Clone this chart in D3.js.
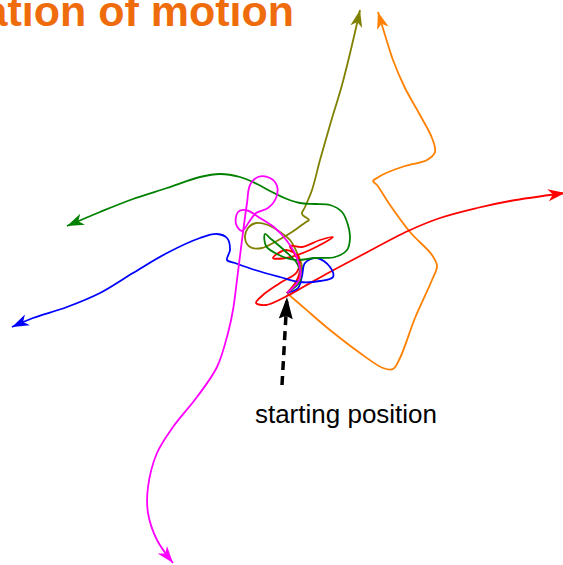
<!DOCTYPE html>
<html>
<head>
<meta charset="utf-8">
<script src="https://cdn.jsdelivr.net/npm/d3@7"></script>
<style>
	html, body { margin: 0; padding: 0; background: #fff; }
	svg { display: block; }
</style>
</head>
<body>
<svg id="chart"></svg>
<script>
;(() => {
	'use strict';

	// track positions, image coordinates (y grows downward)
	const trackNames = ['olive', 'orange', 'red', 'blue', 'green', 'magenta'];
	const trackColors = ['#808000', '#ff8000', '#ff0000', '#0000ff', '#008000', '#ff00ff'];

	const oliveTrack = [[287,293],[296,282],[302,268],[298,255],[290,240],[280,232],[268,225],[256,223],[248,228],[245,238],[250,247],[262,248],[275,242],[292,232],[306,222],[309,220],[302,214],[305,207],[312,190],[320,160],[330,125],[342,85],[352,45],[360,10]];
	const orangeTrack = [[287,293],[295,300],[310,313],[330,330],[360,353],[383,368],[393,369],[400,358],[415,318],[432,280],[437,266],[432,255],[410,232],[390,205],[377,185],[373,181],[377,178],[386,173],[405,166],[427,160],[435,152],[432,138],[420,115],[405,88],[393,60],[385,35],[378,12]];
	const redTrack = [[287,293],[296,282],[300,266],[294,253],[290,246],[302,247],[320,240],[333,237],[310,250],[286,258],[273,258],[286,250],[299,258],[297,272],[280,283],[263,295],[256,303],[266,305],[285,297],[305,286],[330,272],[360,256],[408,231],[440,218],[477,208],[510,201],[565,193]];
	const blueTrack = [[287,293],[298,288],[302,276],[305,263],[317,258],[330,267],[333,277],[320,281],[300,282],[280,277],[255,270],[235,263],[227,260],[230,250],[227,238],[217,234],[200,238],[167,253],[133,273],[100,293],[67,307],[33,318],[12,327]];
	const greenTrack = [[287,293],[300,281],[298,265],[285,251],[271,239],[265,234],[266,246],[279,255],[296,260],[315,258],[335,257],[347,250],[350,238],[348,225],[342,212],[330,205],[315,204],[300,203],[287,199],[272,192],[257,184],[240,177],[220,174],[200,177],[167,188],[133,199],[100,212],[67,226]];
	const magentaTrack = [[287,293],[300,278],[297,258],[287,241],[275,228],[260,218],[246,210],[238,212],[236,224],[242,231],[249,222],[256,213],[268,208],[276,198],[277,186],[270,178],[258,177],[250,185],[247,203],[242,240],[237,280],[233,310],[228,333],[217,367],[197,397],[173,427],[157,453],[148,487],[148,513],[157,540],[173,563]];

	const tracks = [oliveTrack, orangeTrack, redTrack, blueTrack, greenTrack, magentaTrack];

	// starting position annotation
	const startPoint = [287, 297];
	const labelAnchor = [282, 385];
	const labelText = 'starting position';
	const titleText = 'Visualization of motion';

	const width = 563,
		height = 565;

	const x = d3.scaleLinear().domain([0, 563]).range([0, width]),
		y = d3.scaleLinear().domain([0, 565]).range([0, height]);

	const svg = d3.select('#chart')
		.attr('width', width)
		.attr('height', height);

	const defs = svg.append('defs');

	// one arrowhead marker per colour
	const addMarker = function(id, color, len, half, notch) {
		defs.append('marker')
			.attr('id', id)
			.attr('markerUnits', 'userSpaceOnUse')
			.attr('viewBox', (-len - 2) + ' ' + (-half - 2) + ' ' + (len + 4) + ' ' + (2 * half + 4))
			.attr('markerWidth', len + 4)
			.attr('markerHeight', 2 * half + 4)
			.attr('refX', 0)
			.attr('refY', 0)
			.attr('orient', 'auto')
			.append('path')
			.attr('d', 'M0,0L' + (-len) + ',' + (-half) + 'L' + (-len * notch) + ',0L' + (-len) + ',' + half + 'Z')
			.attr('fill', color);
	};

	trackColors.forEach((c, i) => addMarker('arrow-' + trackNames[i], c, 17, 6, 0.72));
	addMarker('arrow-start', '#000', 22, 7, 0.85);

	const line = d3.line()
		.x(d => x(d[0]))
		.y(d => y(d[1]))
		.curve(d3.curveCatmullRom.alpha(0.5));

	svg.selectAll('.track')
		.data(tracks)
		.enter()
		.append('path')
		.attr('class', 'track')
		.attr('d', line)
		.attr('fill', 'none')
		.attr('stroke', (d, i) => trackColors[i])
		.attr('stroke-width', 1.8)
		.attr('stroke-linejoin', 'round')
		.attr('marker-end', (d, i) => 'url(#arrow-' + trackNames[i] + ')');

	// dashed pointer to the start
	svg.append('line')
		.attr('x1', x(labelAnchor[0]))
		.attr('y1', y(labelAnchor[1]))
		.attr('x2', x(startPoint[0]))
		.attr('y2', y(startPoint[1]))
		.attr('stroke', '#000')
		.attr('stroke-width', 3.5)
		.attr('stroke-dasharray', '9,6')
		.attr('marker-end', 'url(#arrow-start)');

	svg.append('text')
		.attr('x', 346)
		.attr('y', 423)
		.attr('text-anchor', 'middle')
		.attr('font-family', 'Liberation Sans, Arial, sans-serif')
		.attr('font-size', 26)
		.attr('fill', '#000')
		.text(labelText);

	svg.append('text')
		.attr('x', 294)
		.attr('y', 26)
		.attr('text-anchor', 'end')
		.attr('font-family', 'Liberation Sans, Arial, sans-serif')
		.attr('font-weight', 700)
		.attr('font-size', 43)
		.attr('fill', '#ef6c0c')
		.text(titleText);
})();
</script>
</body>
</html>
